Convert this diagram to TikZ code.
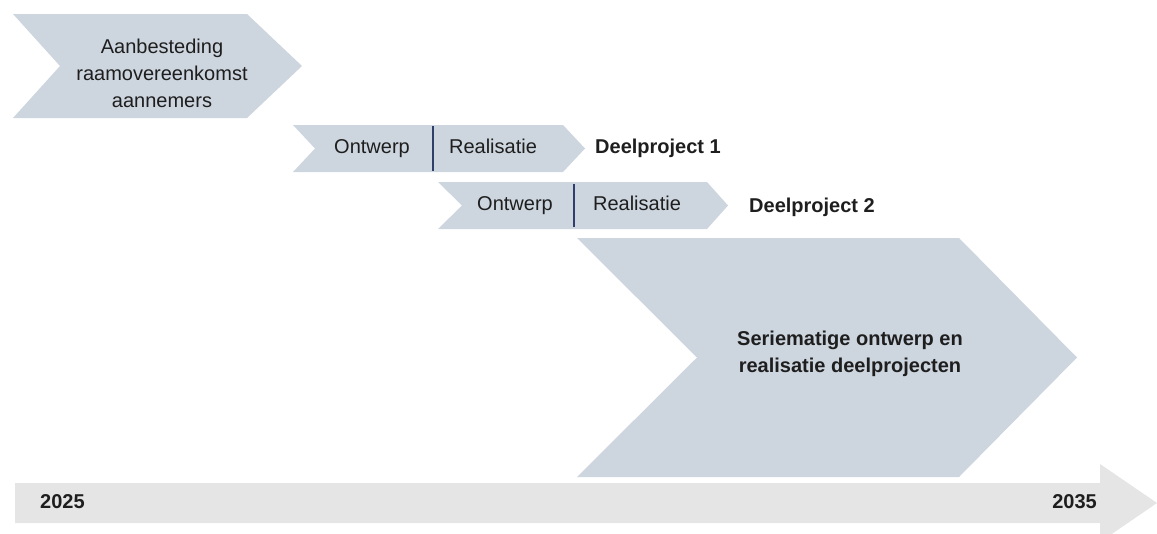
\documentclass[tikz,border=0pt]{standalone}
\usepackage{fontspec}
\setmainfont{Liberation Sans}

\definecolor{phase}{HTML}{CDD5DF}
\definecolor{timeline}{HTML}{E5E5E5}
\definecolor{divider}{HTML}{2F3E6B}
\definecolor{ink}{HTML}{1E1E1E}

% chevron: left, notch tip, right, point tip, top, bottom
\newcommand{\chevron}[6]{%
  \fill[phase] (#1,#5) -- (#3,#5) -- (#4,{(#5+#6)/2}) -- (#3,#6)
    -- (#1,#6) -- (#2,{(#5+#6)/2}) -- cycle;}

\tikzset{
  txt/.style={text=ink, inner sep=0pt, font=\fontsize{20}{27}\selectfont},
  bold/.style={txt, font=\fontsize{20}{27}\selectfont\bfseries},
  oneline/.style={text height=14.5pt, text depth=4pt},
}

\begin{document}
\begin{tikzpicture}[x=1pt, y=-1pt]

\useasboundingbox (0,0) rectangle (1157,533);
\clip (0,0) rectangle (1157,533);

% time axis
\fill[timeline] (15,483) -- (1100,483) -- (1100,464) -- (1157,503)
  -- (1100,542) -- (1100,523) -- (15,523) -- cycle;
\node[bold, oneline, anchor=west] (start) at (40,503) {2025};
\node[bold, oneline, anchor=east] (end) at (1097,503) {2035};

% phases
\chevron{13}{60}{247}{302}{14}{118}
\chevron{293}{315}{563}{585}{125}{172}
\chevron{438}{462}{707}{728}{182}{229}
\chevron{577}{697}{959}{1077}{238}{477}

\draw[divider, line width=1.2pt] (433,126) -- (433,171);
\draw[divider, line width=1.2pt] (574,184) -- (574,227);

\node[txt, align=center] (aanbesteding) at (162,73)
  {Aanbesteding\\raamovereenkomst\\aannemers};

\node[txt, oneline] (ontwerp1) at (372,148) {Ontwerp};
\node[txt, oneline] (realisatie1) at (493,148) {Realisatie};
\node[bold, oneline, anchor=west] (deel1) at (595,148) {Deelproject 1};

\node[txt, oneline] (ontwerp2) at (515,205) {Ontwerp};
\node[txt, oneline] (realisatie2) at (637,205) {Realisatie};
\node[bold, oneline, anchor=west] (deel2) at (749,207) {Deelproject 2};

\node[bold, align=center] (serie) at (850,354)
  {Seriematige ontwerp en\\realisatie deelprojecten};

\end{tikzpicture}
\end{document}
